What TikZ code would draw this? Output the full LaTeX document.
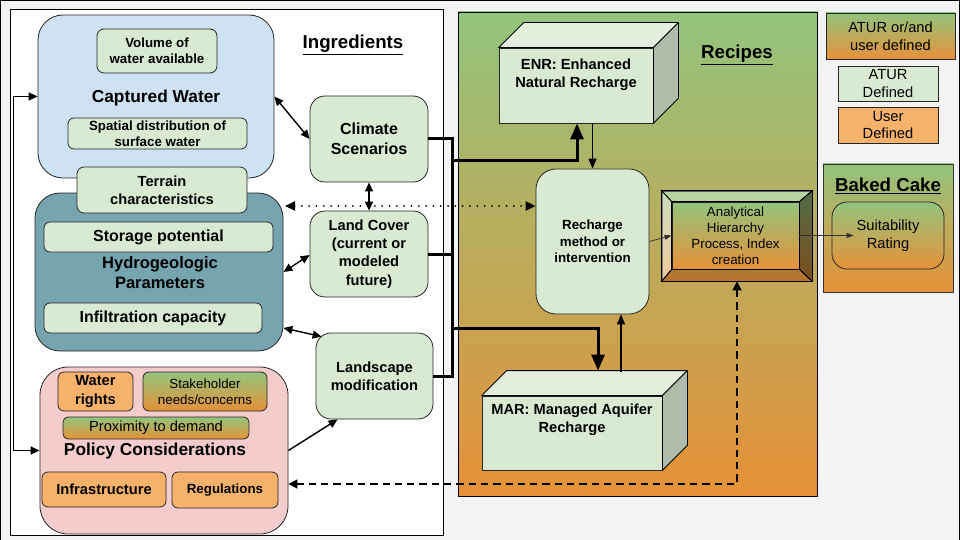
\documentclass[tikz,border=0pt]{standalone}
\usepackage{fontspec}
\setmainfont{Liberation Sans}
\usetikzlibrary{arrows.meta,calc}
\definecolor{bgc}{HTML}{F3F3F3}
\definecolor{cwblue}{HTML}{CFE2F3}
\definecolor{hydteal}{HTML}{76A5AF}
\definecolor{polpink}{HTML}{F4CCCC}
\definecolor{lgreen}{HTML}{D9EAD3}
\definecolor{lorange}{HTML}{F6B26B}
\definecolor{gtop}{HTML}{93C47D}
\definecolor{gbot}{HTML}{E69138}
\definecolor{cubetop}{HTML}{E3EEDD}
\definecolor{cubeside}{HTML}{AEBDA9}
\begin{document}
\begin{tikzpicture}[x=1pt,y=-1pt,
  txtS/.style={font=\fontsize{13.33}{16}\selectfont},
  txtSB/.style={font=\fontsize{13.33}{16.3}\selectfont\bfseries},
  txtM/.style={font=\fontsize{14.67}{17.8}\selectfont},
  txtMB/.style={font=\fontsize{14.67}{18.2}\selectfont\bfseries},
  txtL/.style={font=\fontsize{16}{19.5}\selectfont\bfseries},
  txtXL/.style={font=\fontsize{17.33}{20}\selectfont\bfseries},
  txtT/.style={font=\fontsize{18.67}{22}\selectfont\bfseries},
  panel/.style={draw=black,line width=0.9pt,inner sep=0pt},
  bx/.style={draw=black!85,line width=0.8pt,inner sep=0pt,align=center},
  gbox/.style={bx,fill=lgreen},
  obox/.style={bx,fill=lorange},
  grad/.style={top color=gtop,bottom color=gbot},
  lbl/.style={inner sep=0pt,align=center},
  dbl/.style={{Triangle[length=9pt,width=8pt]}-{Triangle[length=9pt,width=8pt]},line width=1.4pt},
  bus/.style={line width=3pt},
  bustip/.style={-{Triangle[length=16pt,width=13pt]}},
  thinarr/.style={-{Triangle[length=10pt,width=8pt]},line width=1.2pt},
  smallarr/.style={-{Triangle[length=7pt,width=5pt]},line width=0.8pt,draw=black!80},
  dotarr/.style={{Triangle[length=10pt,width=9pt]}-{Triangle[length=10pt,width=9pt]},line width=2pt,dash pattern=on 0.01pt off 7.3pt,line cap=round},
  dasharr/.style={{Triangle[length=9pt,width=9pt]}-{Triangle[length=9pt,width=9pt]},line width=1.7pt,dash pattern=on 7.3pt off 5pt}
]
\useasboundingbox (0,0) rectangle (960,540);
\fill[bgc] (0,0) rectangle (960,540);
\draw[line width=1pt] (0.5,540) -- (0.5,0.5) -- (959.5,0.5) -- (959.5,540);

% ---------------- Ingredients panel
\node[panel,fill=white,minimum width=433,minimum height=526] (ingp) at (226.5,272) {};
\node[lbl,txtT] (ingt) at (353,45) {\underline{Ingredients}};

% Captured water
\node[bx,fill=cwblue,rounded corners=25pt,minimum width=236,minimum height=163] (cw) at (156,96.5) {};
\node[gbox,txtSB,rounded corners=7pt,minimum width=120,minimum height=44] (vol) at (157,51) {Volume of\\water available};
\node[lbl,txtXL] (cwt) at (156,98) {Captured Water};
\node[gbox,txtSB,rounded corners=6pt,minimum width=179,minimum height=31] (spat) at (157.5,133.5) {Spatial distribution of\\surface water};

% Hydrogeologic
\node[bx,fill=hydteal,rounded corners=25pt,minimum width=248,minimum height=158] (hyd) at (159,272) {};
\node[gbox,txtMB,rounded corners=7pt,minimum width=170,minimum height=46] (terr) at (162,190) {Terrain\\characteristics};
\node[gbox,txtL,rounded corners=6pt,minimum width=229,minimum height=30] (stor) at (158.5,237) {Storage potential};
\node[lbl,font=\fontsize{16.5}{20}\selectfont\bfseries] (hydt) at (160,273) {Hydrogeologic\\Parameters};
\node[gbox,txtL,rounded corners=6pt,minimum width=218,minimum height=30] (inf) at (153,318) {Infiltration capacity};

% Policy
\node[bx,fill=polpink,rounded corners=28pt,minimum width=248,minimum height=167] (pol) at (164,450.5) {};
\node[obox,txtMB,rounded corners=6pt,minimum width=75,minimum height=39] (wr) at (95.5,391.5) {Water\\rights};
\node[bx,grad,txtS,rounded corners=6pt,minimum width=124,minimum height=39] (stake) at (205,391.5) {Stakeholder\\needs/concerns};
\node[bx,grad,txtM,rounded corners=5pt,minimum width=186,minimum height=22] (prox) at (156,428) {Proximity to demand};
\node[lbl,txtXL] (polt) at (155,451) {Policy Considerations};
\node[obox,txtMB,rounded corners=6pt,minimum width=124,minimum height=35] (infra) at (104,489.5) {Infrastructure};
\node[obox,txtSB,rounded corners=6pt,minimum width=106,minimum height=36] (reg) at (225,490) {Regulations};

% Factors
\node[gbox,txtL,rounded corners=15pt,minimum width=118,minimum height=86] (clim) at (369,139) {Climate\\Scenarios};
\node[gbox,txtMB,rounded corners=15pt,minimum width=118,minimum height=86] (lc) at (369,254) {Land Cover\\(current or\\modeled\\future)};
\node[gbox,txtMB,rounded corners=15pt,minimum width=117,minimum height=86] (land) at (374.5,376) {Landscape\\modification};

% ---------------- Recipes panel
\node[panel,grad,minimum width=359,minimum height=484] (recp) at (637.5,254) {};
\node[lbl,txtT] (rect) at (737,55) {\underline{Recipes}};

% ENR cube
\node[bx,fill=lgreen,minimum width=154,minimum height=75] (enr) at (576,85.5) {};
\draw[fill=cubetop,line width=0.8pt,line join=round] (enr.north west) -- ++(25,-25) -- ($(enr.north east)+(25,-25)$) -- (enr.north east) -- cycle;
\draw[fill=cubeside,line width=0.8pt,line join=round] (enr.north east) -- ++(25,-25) -- ($(enr.south east)+(25,-25)$) -- (enr.south east) -- cycle;
\node[lbl,txtMB] (enrt) at (576,75) {ENR: Enhanced\\Natural Recharge};

% MAR cube
\node[bx,fill=lgreen,minimum width=180,minimum height=74] (mar) at (572,433) {};
\draw[fill=cubetop,line width=0.8pt,line join=round] (mar.north west) -- ++(25,-25) -- ($(mar.north east)+(25,-25)$) -- (mar.north east) -- cycle;
\draw[fill=cubeside,line width=0.8pt,line join=round] (mar.north east) -- ++(25,-25) -- ($(mar.south east)+(25,-25)$) -- (mar.south east) -- cycle;
\node[lbl,txtMB] (mart) at (572,420) {MAR: Managed Aquifer\\Recharge};

% Recharge method
\node[gbox,txtSB,rounded corners=20pt,minimum width=113,minimum height=145] (rech) at (592.5,241.5) {Recharge\\method or\\intervention};

% AHP bevel box
\node[bx,grad,minimum width=150,minimum height=90] (ahp) at (737,236) {};
\node[bx,grad,txtS,minimum width=127,minimum height=67] (ahpin) at (735.5,235.5) {Analytical\\Hierarchy\\Process, Index\\creation};
\draw[fill=white,fill opacity=0.3,line width=0.8pt] (ahp.north west) -- (ahp.north east) -- (ahpin.north east) -- (ahpin.north west) -- cycle;
\draw[fill=white,fill opacity=0.5,line width=0.8pt] (ahp.north west) -- (ahpin.north west) -- (ahpin.south west) -- (ahp.south west) -- cycle;
\draw[fill=black,fill opacity=0.45,line width=0.8pt] (ahp.north east) -- (ahp.south east) -- (ahpin.south east) -- (ahpin.north east) -- cycle;
\draw[fill=black,fill opacity=0.2,line width=0.8pt] (ahp.south west) -- (ahpin.south west) -- (ahpin.south east) -- (ahp.south east) -- cycle;

% ---------------- Legend
\node[bx,grad,txtM,minimum width=129,minimum height=46] (leg1) at (890.5,36) {ATUR or/and\\user defined};
\node[bx,fill=lgreen,txtM,minimum width=100,minimum height=35] (leg2) at (888,83.5) {ATUR\\Defined};
\node[bx,fill=lorange,txtM,minimum width=100,minimum height=36] (leg3) at (888,125) {User\\Defined};

% ---------------- Baked cake
\node[panel,grad,draw=black!80,minimum width=130,minimum height=128] (cakep) at (888,228) {};
\node[lbl,txtT] (caket) at (888,186) {\underline{Baked Cake}};
\node[bx,grad,txtM,rounded corners=15pt,minimum width=112,minimum height=67] (suit) at (888,235.5) {Suitability\\Rating};

% ---------------- Connectors
\draw[dbl] (cw.west) -- ++(-24,0) |- (pol.west);
\draw[dbl] (cw.east) -- (clim.west);
\draw[dbl] (clim.south) -- (lc.north);
\draw[dbl] ([yshift=0pt]hyd.east) -- ([yshift=-1pt]lc.west);
\draw[dbl] ([yshift=-56pt]hyd.east) -- ([xshift=6pt,yshift=-4pt]land.north west);
\draw[-{Triangle[length=9pt,width=8pt]},line width=1.4pt] (pol.east) -- ([xshift=22pt]land.south west);

\coordinate (dotL) at (285,206);
\draw[dotarr] (dotL) -- (dotL -| rech.west);

\draw[dasharr] (ahp.south) |- ([yshift=-33.5pt]pol.east);

\coordinate (busx) at (452,0);
\draw[bus,line join=miter] (clim.east) -| (land.east -| busx) -- (land.east);
\draw[bus] (lc.east) -- (lc.east -| busx);
\coordinate (b1) at (452,161);
\coordinate (b2) at (452,328);
\coordinate (martip) at ($(mar.north)+(26,-25)$);
\draw[bus,bustip] (b1) -| ([xshift=1pt]enr.south);
\draw[bus,bustip] (b2) -| (martip);

\draw[thinarr] (enr.south -| rech.north) -- (rech.north);
\draw[thinarr] ($(mar.north)+(49,-24)$) -- ([xshift=28.5pt]rech.south);
\draw[smallarr] (rech.east) -- (ahpin.west);
\draw[smallarr] (ahpin.east) -- ([xshift=22pt]suit.west);
\end{tikzpicture}
\end{document}
